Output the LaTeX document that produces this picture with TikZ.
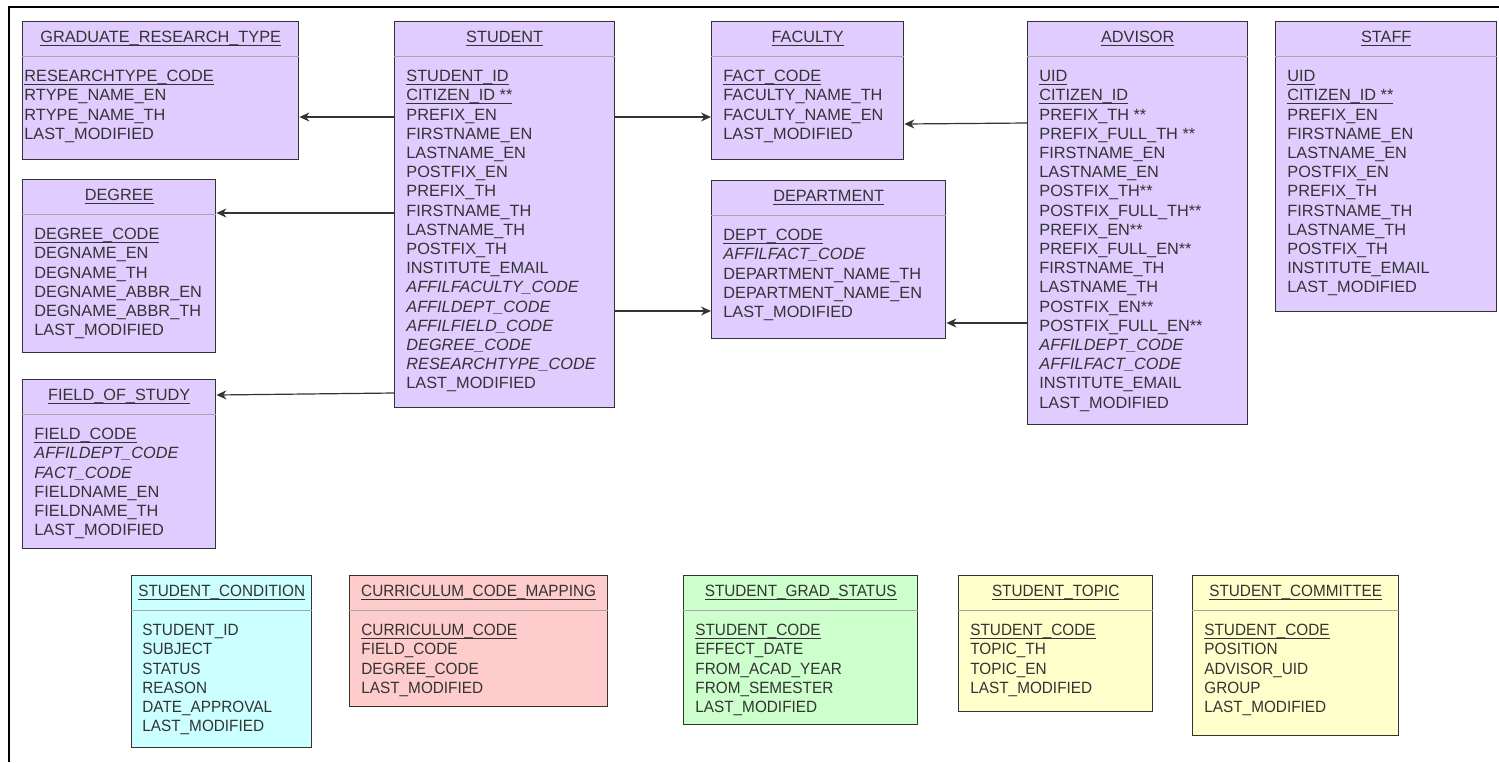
\documentclass[tikz,border=0pt]{standalone}
\usepackage{fontspec}
\setmainfont{Liberation Sans}
\newfontfamily\narrowfont[FakeStretch=0.94]{Liberation Sans}
\usepackage{xcolor}
\usetikzlibrary{arrows.meta}

\definecolor{lav}{HTML}{E1CCFF}
\definecolor{aqua}{HTML}{CCFFFF}
\definecolor{rose}{HTML}{FFCCCC}
\definecolor{mint}{HTML}{CCFFCC}
\definecolor{cream}{HTML}{FFFFCC}
\definecolor{ink}{HTML}{333333}

\newsavebox\keybox
\newcommand{\keyline}[1]{\sbox\keybox{#1}\rlap{\rule[-1.6pt]{\wd\keybox}{0.45pt}}\usebox\keybox}

\begin{document}
\begin{tikzpicture}[x=0.5pt,y=-0.5pt,
    entity/.style={draw=ink,line width=0.7pt,anchor=north west,inner sep=0pt},
    entitytitle/.style={anchor=base,inner sep=0pt,text=ink,font=\fontsize{8.15pt}{9.6pt}\selectfont},
    attrs/.style={anchor=north west,align=left,inner sep=0pt,text=ink,font=\fontsize{8.15pt}{9.6pt}\selectfont},
    lowtitle/.style={entitytitle,font=\narrowfont\fontsize{8.15pt}{9.6pt}\selectfont},
    lowattrs/.style={attrs,font=\narrowfont\fontsize{8.15pt}{9.6pt}\selectfont},
    titleline/.style={draw=gray!70,line width=0.4pt},
    fk/.style={draw=ink,line width=0.6pt,-{Stealth[length=5pt,width=4.5pt]}}]
    \useasboundingbox (0,0) rectangle (1499,762);

    % Frame
    \draw[line width=1pt] (9,762) -- (9,7) -- (1499,7);

    % Graduate research type
    \node[entity,fill=lav,minimum width=138pt,minimum height=69pt] (grt) at (22,21) {};
    \node[entitytitle] (grt-title) at ([yshift=-10.9pt]grt.north) {\keyline{GRADUATE\_RESEARCH\_TYPE}};
    \draw[titleline] ([yshift=-17.5pt]grt.north west) -- ([yshift=-17.5pt]grt.north east);
    \node[attrs] (grt-attrs) at ([shift={(1pt,-24.5pt)}]grt.north west)
        {\keyline{RESEARCHTYPE\_CODE}\\RTYPE\_NAME\_EN\\RTYPE\_NAME\_TH\\LAST\_MODIFIED};

    % Degree
    \node[entity,fill=lav,minimum width=96.5pt,minimum height=86.5pt] (degree) at (22,179) {};
    \node[entitytitle] (degree-title) at ([yshift=-10.9pt]degree.north) {\keyline{DEGREE}};
    \draw[titleline] ([yshift=-17.5pt]degree.north west) -- ([yshift=-17.5pt]degree.north east);
    \node[attrs] (degree-attrs) at ([shift={(6pt,-24.5pt)}]degree.north west)
        {\keyline{DEGREE\_CODE}\\DEGNAME\_EN\\DEGNAME\_TH\\DEGNAME\_ABBR\_EN\\DEGNAME\_ABBR\_TH\\LAST\_MODIFIED};

    % Field of study
    \node[entity,fill=lav,minimum width=96.5pt,minimum height=84.5pt] (field) at (22,379) {};
    \node[entitytitle] (field-title) at ([yshift=-10.9pt]field.north) {\keyline{FIELD\_OF\_STUDY}};
    \draw[titleline] ([yshift=-17.5pt]field.north west) -- ([yshift=-17.5pt]field.north east);
    \node[attrs] (field-attrs) at ([shift={(6pt,-24.5pt)}]field.north west)
        {\keyline{FIELD\_CODE}\\\textit{AFFILDEPT\_CODE}\\\textit{FACT\_CODE}\\FIELDNAME\_EN\\FIELDNAME\_TH\\LAST\_MODIFIED};

    % Student
    \node[entity,fill=lav,minimum width=110pt,minimum height=193pt] (student) at (394,21) {};
    \node[entitytitle] (student-title) at ([yshift=-10.9pt]student.north) {\keyline{STUDENT}};
    \draw[titleline] ([yshift=-17.5pt]student.north west) -- ([yshift=-17.5pt]student.north east);
    \node[attrs] (student-attrs) at ([shift={(6pt,-24.5pt)}]student.north west)
        {\keyline{STUDENT\_ID}\\\keyline{CITIZEN\_ID **}\\PREFIX\_EN\\FIRSTNAME\_EN\\LASTNAME\_EN\\POSTFIX\_EN\\
         PREFIX\_TH\\FIRSTNAME\_TH\\LASTNAME\_TH\\POSTFIX\_TH\\INSTITUTE\_EMAIL\\
         \textit{AFFILFACULTY\_CODE}\\\textit{AFFILDEPT\_CODE}\\\textit{AFFILFIELD\_CODE}\\
         \textit{DEGREE\_CODE}\\\textit{RESEARCHTYPE\_CODE}\\LAST\_MODIFIED};

    % Faculty
    \node[entity,fill=lav,minimum width=96pt,minimum height=69pt] (faculty) at (711,21) {};
    \node[entitytitle] (faculty-title) at ([yshift=-10.9pt]faculty.north) {\keyline{FACULTY}};
    \draw[titleline] ([yshift=-17.5pt]faculty.north west) -- ([yshift=-17.5pt]faculty.north east);
    \node[attrs] (faculty-attrs) at ([shift={(6pt,-24.5pt)}]faculty.north west)
        {\keyline{FACT\_CODE}\\FACULTY\_NAME\_TH\\FACULTY\_NAME\_EN\\LAST\_MODIFIED};

    % Department
    \node[entity,fill=lav,minimum width=117pt,minimum height=79pt] (dept) at (711,180) {};
    \node[entitytitle] (dept-title) at ([yshift=-10.9pt]dept.north) {\keyline{DEPARTMENT}};
    \draw[titleline] ([yshift=-17.5pt]dept.north west) -- ([yshift=-17.5pt]dept.north east);
    \node[attrs] (dept-attrs) at ([shift={(6pt,-24.5pt)}]dept.north west)
        {\keyline{DEPT\_CODE}\\\textit{AFFILFACT\_CODE}\\DEPARTMENT\_NAME\_TH\\DEPARTMENT\_NAME\_EN\\LAST\_MODIFIED};

    % Advisor
    \node[entity,fill=lav,minimum width=110pt,minimum height=201.5pt] (advisor) at (1027,21) {};
    \node[entitytitle] (advisor-title) at ([yshift=-10.9pt]advisor.north) {\keyline{ADVISOR}};
    \draw[titleline] ([yshift=-17.5pt]advisor.north west) -- ([yshift=-17.5pt]advisor.north east);
    \node[attrs] (advisor-attrs) at ([shift={(6pt,-24.5pt)}]advisor.north west)
        {\keyline{UID}\\\keyline{CITIZEN\_ID}\\PREFIX\_TH **\\PREFIX\_FULL\_TH **\\FIRSTNAME\_EN\\LASTNAME\_EN\\
         POSTFIX\_TH**\\POSTFIX\_FULL\_TH**\\PREFIX\_EN**\\PREFIX\_FULL\_EN**\\FIRSTNAME\_TH\\LASTNAME\_TH\\
         POSTFIX\_EN**\\POSTFIX\_FULL\_EN**\\\textit{AFFILDEPT\_CODE}\\\textit{AFFILFACT\_CODE}\\
         INSTITUTE\_EMAIL\\LAST\_MODIFIED};

    % Staff
    \node[entity,fill=lav,minimum width=110.5pt,minimum height=145pt] (staff) at (1275,21) {};
    \node[entitytitle] (staff-title) at ([yshift=-10.9pt]staff.north) {\keyline{STAFF}};
    \draw[titleline] ([yshift=-17.5pt]staff.north west) -- ([yshift=-17.5pt]staff.north east);
    \node[attrs] (staff-attrs) at ([shift={(6pt,-24.5pt)}]staff.north west)
        {\keyline{UID}\\\keyline{CITIZEN\_ID **}\\PREFIX\_EN\\FIRSTNAME\_EN\\LASTNAME\_EN\\POSTFIX\_EN\\
         PREFIX\_TH\\FIRSTNAME\_TH\\LASTNAME\_TH\\POSTFIX\_TH\\INSTITUTE\_EMAIL\\LAST\_MODIFIED};

    % Bottom row tables
    \node[entity,fill=aqua,minimum width=90pt,minimum height=86pt] (cond) at (131,575) {};
    \node[lowtitle] (cond-title) at ([yshift=-10.9pt]cond.north) {\keyline{STUDENT\_CONDITION}};
    \draw[titleline] ([yshift=-17.5pt]cond.north west) -- ([yshift=-17.5pt]cond.north east);
    \node[lowattrs] (cond-attrs) at ([shift={(5.5pt,-24.5pt)}]cond.north west)
        {STUDENT\_ID\\SUBJECT\\STATUS\\REASON\\DATE\_APPROVAL\\LAST\_MODIFIED};

    \node[entity,fill=rose,minimum width=129pt,minimum height=65.5pt] (curr) at (349,575) {};
    \node[lowtitle] (curr-title) at ([yshift=-10.9pt]curr.north) {\keyline{CURRICULUM\_CODE\_MAPPING}};
    \draw[titleline] ([yshift=-17.5pt]curr.north west) -- ([yshift=-17.5pt]curr.north east);
    \node[lowattrs] (curr-attrs) at ([shift={(6pt,-24.5pt)}]curr.north west)
        {\keyline{CURRICULUM\_CODE}\\FIELD\_CODE\\DEGREE\_CODE\\LAST\_MODIFIED};

    \node[entity,fill=mint,minimum width=117pt,minimum height=74.5pt] (grad) at (683,575) {};
    \node[lowtitle] (grad-title) at ([yshift=-10.9pt]grad.north) {\keyline{STUDENT\_GRAD\_STATUS}};
    \draw[titleline] ([yshift=-17.5pt]grad.north west) -- ([yshift=-17.5pt]grad.north east);
    \node[lowattrs] (grad-attrs) at ([shift={(6pt,-24.5pt)}]grad.north west)
        {\keyline{STUDENT\_CODE}\\EFFECT\_DATE\\FROM\_ACAD\_YEAR\\FROM\_SEMESTER\\LAST\_MODIFIED};

    \node[entity,fill=cream,minimum width=97pt,minimum height=68pt] (topic) at (958,575) {};
    \node[lowtitle] (topic-title) at ([yshift=-10.9pt]topic.north) {\keyline{STUDENT\_TOPIC}};
    \draw[titleline] ([yshift=-17.5pt]topic.north west) -- ([yshift=-17.5pt]topic.north east);
    \node[lowattrs] (topic-attrs) at ([shift={(6pt,-24.5pt)}]topic.north west)
        {\keyline{STUDENT\_CODE}\\TOPIC\_TH\\TOPIC\_EN\\LAST\_MODIFIED};

    \node[entity,fill=cream,minimum width=103pt,minimum height=80pt] (committee) at (1192,575) {};
    \node[lowtitle] (committee-title) at ([yshift=-10.9pt]committee.north) {\keyline{STUDENT\_COMMITTEE}};
    \draw[titleline] ([yshift=-17.5pt]committee.north west) -- ([yshift=-17.5pt]committee.north east);
    \node[lowattrs] (committee-attrs) at ([shift={(6pt,-24.5pt)}]committee.north west)
        {\keyline{STUDENT\_CODE}\\POSITION\\ADVISOR\_UID\\GROUP\\LAST\_MODIFIED};

    % Foreign keys
    \draw[fk] (student.west |- 0,117) -- (grt.east |- 0,117);
    \draw[fk] (student.west |- 0,213) -- (degree.east |- 0,213);
    \draw[fk] (student.west |- 0,393) -- (field.east |- 0,395);
    \draw[fk] (student.east |- 0,117) -- (faculty.west |- 0,117);
    \draw[fk] (student.east |- 0,311) -- (dept.west |- 0,311);
    \draw[fk] (advisor.west |- 0,123) -- (faculty.east |- 0,124);
    \draw[fk] (advisor.west |- 0,323) -- (dept.east |- 0,323);
\end{tikzpicture}
\end{document}
